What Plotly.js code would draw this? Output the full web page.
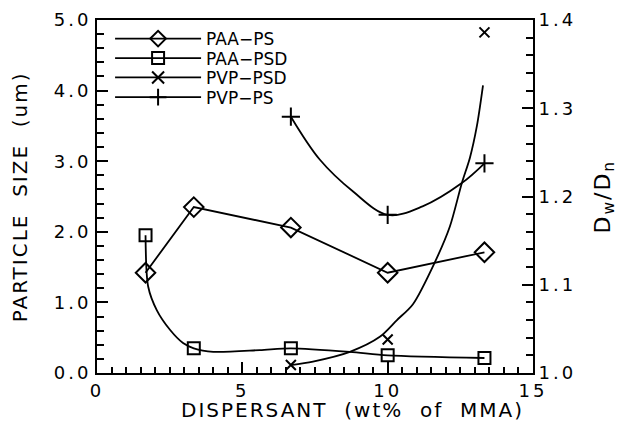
<!DOCTYPE html>
<html>
<head>
<meta charset="utf-8">
<script src="https://cdn.plot.ly/plotly-3.0.1.min.js"></script>
<style>
html,body{margin:0;padding:0;background:#fff;}
#chart{width:630px;height:424px;}
#chart g.annotation text { letter-spacing: 2px; }
#chart g.xtick text, #chart g.ytick text, #chart g.y2tick text { letter-spacing: 3px; }
</style>
</head>
<body>
<div id="chart"></div>
<script>
// Measured points
const xPAA = [1.67, 3.33, 6.67, 10, 13.33];
const paaPS = [1.42, 2.35, 2.06, 1.42, 1.71];          // left axis (um)
const paaPSD = [1.156, 1.028, 1.028, 1.020, 1.017];    // right axis Dw/Dn
const xPVP = [6.67, 10, 13.33];
const pvpPSD = [1.009, 1.038, 1.386];                  // right axis Dw/Dn
const pvpPS = [3.63, 2.24, 2.97];                      // left axis (um)

// Smooth fitted curves
const paaPSDCurveX = [1.67, 1.76, 2.06, 2.51, 2.96, 3.33, 4.0, 5.6, 6.67, 8.7, 10, 13.33];
const paaPSDCurveY = [1.156, 1.098, 1.071, 1.049, 1.034, 1.028, 1.024, 1.026, 1.028, 1.024, 1.020, 1.017];
const pvpPSDCurveX = [6.67, 7.43, 8.70, 9.73, 10.32, 10.87, 11.63, 12.14, 12.55, 12.83, 13.07, 13.28];
const pvpPSDCurveY = [1.009, 1.013, 1.024, 1.041, 1.060, 1.078, 1.126, 1.166, 1.215, 1.244, 1.280, 1.326];
const pvpPSCurveX = [6.67, 7.67, 8.81, 10, 11.2, 12.55, 13.33];
const pvpPSCurveY = [3.63, 3.02, 2.57, 2.24, 2.36, 2.69, 2.97];

const legendNames = ["PAA\u2212PS", "PAA\u2212PSD", "PVP\u2212PSD", "PVP\u2212PS"];
const legendSymbols = ["diamond-open", "square-open", "x-thin-open", "cross-thin-open"];
const xTitle = "DISPERSANT  (wt%  of  MMA)";
const yTitle = "PARTICLE  SIZE  (um)";
const y2Title = "D<sub>w</sub>/D<sub>n</sub>";

const FONT = "DejaVu Sans";
const K = "#000";
const LW = 1.8;

const traces = [];
// curves
traces.push({x: xPAA, y: paaPS, mode: "lines", line: {color: K, width: LW}, showlegend: false, hoverinfo: "skip"});
traces.push({x: paaPSDCurveX, y: paaPSDCurveY, yaxis: "y2", mode: "lines", line: {color: K, width: LW, shape: "spline", smoothing: 0.8}, showlegend: false, hoverinfo: "skip"});
traces.push({x: pvpPSDCurveX, y: pvpPSDCurveY, yaxis: "y2", mode: "lines", line: {color: K, width: LW, shape: "spline", smoothing: 0.8}, showlegend: false, hoverinfo: "skip"});
traces.push({x: pvpPSCurveX, y: pvpPSCurveY, mode: "lines", line: {color: K, width: LW, shape: "spline", smoothing: 1}, showlegend: false, hoverinfo: "skip"});
// markers
traces.push({x: xPAA, y: paaPS, mode: "markers", marker: {symbol: "diamond-open", size: 15, color: K, line: {width: 2, color: K}}, showlegend: false});
traces.push({x: xPAA, y: paaPSD, yaxis: "y2", mode: "markers", marker: {symbol: "square-open", size: 12, color: K, line: {width: 2, color: K}}, showlegend: false});
traces.push({x: xPVP, y: pvpPSD, yaxis: "y2", mode: "markers", marker: {symbol: "x-thin-open", size: 10, color: K, line: {width: 2, color: K}}, showlegend: false});
traces.push({x: xPVP, y: pvpPS, mode: "markers", marker: {symbol: "cross-thin-open", size: 13, color: K, line: {width: 2, color: K}}, showlegend: false});
// empty traces that carry the small-tick overlay axes
traces.push({x: [null], y: [null], xaxis: "x2", yaxis: "y3", mode: "markers", showlegend: false, hoverinfo: "skip"});
traces.push({x: [null], y: [null], xaxis: "x", yaxis: "y4", mode: "markers", showlegend: false, hoverinfo: "skip"});

// legend entries, one legend per row so the row spacing can match
const legendKeys = ["legend", "legend2", "legend3", "legend4"];
const legendRowY = [0.946, 0.891, 0.836, 0.780];
legendNames.forEach(function (n, i) {
  traces.push({x: [null], y: [null], name: n, mode: "lines+markers", legend: legendKeys[i],
    line: {color: K, width: LW},
    marker: {symbol: legendSymbols[i], size: 12, color: K, line: {width: 2, color: K}}});
});

const small = {ticks: "inside", tickwidth: 1.5, tickcolor: K, showticklabels: false, showgrid: false, zeroline: false, showline: false, tickmode: "linear"};

const layout = {
  width: 630, height: 424,
  margin: {l: 97, r: 97, t: 20, b: 51, pad: 0},
  paper_bgcolor: "#fff", plot_bgcolor: "#fff",
  font: {family: FONT, size: 18, color: K},
  showlegend: true,
  xaxis: {range: [0, 15], tickmode: "linear", dtick: 5, tick0: 0, ticks: "inside", ticklen: 11, tickwidth: 1.5, tickcolor: K,
    showline: true, linecolor: K, linewidth: 2, mirror: true, showgrid: false, zeroline: false,
    minor: {dtick: 0.5, ticks: "inside", ticklen: 6, tickcolor: K},
    tickfont: {family: FONT, size: 18, color: K}},
  xaxis2: Object.assign({}, small, {overlaying: "x", anchor: "y", side: "bottom", range: [0, 15], tick0: 0, dtick: 0.5, ticklen: 6}),
  yaxis: {range: [0, 5], tickmode: "linear", dtick: 1, tick0: 0, tickformat: ".1f", ticks: "inside", ticklen: 11, tickwidth: 1.5, tickcolor: K,
    showline: true, linecolor: K, linewidth: 2, showgrid: false, zeroline: false,
    minor: {dtick: 0.2, ticks: "inside", ticklen: 7, tickcolor: K},
    tickfont: {family: FONT, size: 18, color: K}},
  yaxis3: Object.assign({}, small, {overlaying: "y", anchor: "x", side: "left", range: [0, 5], tick0: 0, dtick: 0.2, ticklen: 7}),
  yaxis2: {range: [1.0, 1.4], tickmode: "linear", dtick: 0.1, tick0: 1.0, tickformat: ".1f", overlaying: "y", side: "right",
    ticks: "inside", ticklen: 11, tickwidth: 1.5, tickcolor: K,
    showline: true, linecolor: K, linewidth: 2, showgrid: false, zeroline: false,
    minor: {dtick: 0.02, ticks: "inside", ticklen: 7, tickcolor: K},
    tickfont: {family: FONT, size: 18, color: K}},
  yaxis4: Object.assign({}, small, {overlaying: "y", anchor: "x", side: "right", range: [1.0, 1.4], tick0: 1.0, dtick: 0.02, ticklen: 7}),
  annotations: [
    {text: xTitle, xref: "paper", yref: "paper", x: 0.585, y: -0.105, xanchor: "center", yanchor: "middle",
      showarrow: false, font: {family: FONT, size: 20, color: K}},
    {text: yTitle, xref: "paper", yref: "paper", x: -0.177, y: 0.5, xanchor: "center", yanchor: "middle", textangle: -90,
      showarrow: false, font: {family: FONT, size: 20, color: K}},
    {text: y2Title, xref: "paper", yref: "paper", x: 1.163, y: 0.5, xanchor: "center", yanchor: "middle", textangle: -90,
      showarrow: false, font: {family: FONT, size: 22, color: K}}
  ]
};
legendKeys.forEach(function (k, i) {
  layout[k] = {x: 0.03, y: legendRowY[i], xanchor: "left", yanchor: "middle", bgcolor: "rgba(0,0,0,0)",
    font: {family: FONT, size: 17, color: K}, itemwidth: 86};
});

Plotly.newPlot("chart", traces, layout, {displayModeBar: false});
</script>
</body>
</html>
